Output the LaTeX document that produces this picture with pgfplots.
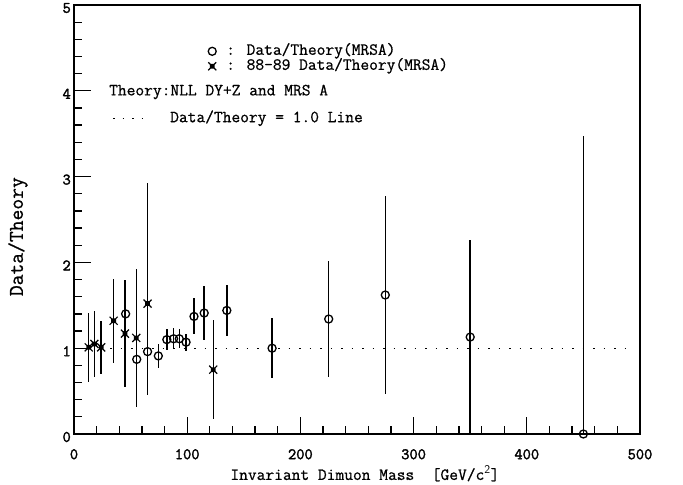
\documentclass[border=0pt]{standalone}
\usepackage{fontspec}
\usepackage{pgfplots}
\usepackage{pgfplotstable}
\pgfplotsset{compat=1.18}
\newfontfamily\reftt{Latin Modern Mono}[FakeBold=0.8]
\newfontfamily\ticktt{Latin Modern Mono}[FakeBold=2.0]

\pgfdeclareplotmark{starbox}{%
  \pgfpathmoveto{\pgfqpoint{-\pgfplotmarksize}{-\pgfplotmarksize}}%
  \pgfpathlineto{\pgfqpoint{\pgfplotmarksize}{\pgfplotmarksize}}%
  \pgfpathmoveto{\pgfqpoint{-\pgfplotmarksize}{\pgfplotmarksize}}%
  \pgfpathlineto{\pgfqpoint{\pgfplotmarksize}{-\pgfplotmarksize}}%
  \pgfpathrectangle{\pgfqpoint{-0.45\pgfplotmarksize}{-0.45\pgfplotmarksize}}{\pgfqpoint{0.9\pgfplotmarksize}{0.9\pgfplotmarksize}}%
  \pgfusepathqstroke
}

\pgfplotstableread{
x     y     ep    em
45.6  1.40  0.22  0.22
55.4  0.87  0.50  0.50
65.0  0.96  0.50  0.50
74.5  0.91  0.14  0.14
82.0  1.10  0.12  0.12
88.0  1.11  0.12  0.12
93.0  1.11  0.11  0.11
99.0  1.07  0.10  0.10
106.0 1.37  0.21  0.21
115.0 1.41  0.32  0.32
135.0 1.44  0.30  0.30
175.0 1.00  0.35  0.35
225.0 1.34  0.68  0.68
275.0 1.62  1.15  1.15
350.0 1.13  1.13  1.13
450.0 0.00  3.47  0.00
}\circles

\pgfplotstableread{
x     y     ep    em
13.0  1.01  0.40  0.40
18.0  1.05  0.38  0.38
24.0  1.01  0.31  0.31
35.0  1.32  0.49  0.49
45.0  1.17  0.62  0.62
55.0  1.12  0.80  0.80
65.0  1.52  1.41  1.07
123.0 0.75  0.58  0.58
}\stars

\begin{document}
\begin{tikzpicture}[font=\fontsize{17bp}{20bp}\selectfont\reftt]
\begin{axis}[
  scale only axis,
  width=566bp, height=429bp,
  xmin=0, xmax=500, ymin=0, ymax=5,
  xtick={0,100,...,500},
  ytick={0,1,...,5},
  minor x tick num=4,
  minor y tick num=4,
  tick pos=left,
  tick align=inside,
  major tick length=17bp,
  minor tick length=8bp,
  axis line style={line width=1.3bp},
  every tick/.style={black, line width=1.3bp},
  /pgf/number format/assume math mode=true,
  ticklabel style={font=\fontsize{16bp}{18bp}\selectfont\ticktt},
  yticklabel style={inner sep=0pt, xshift=-3bp, yshift=-3bp},
  xticklabel style={inner sep=0pt, yshift=-15bp},
  xlabel={Invariant Dimuon Mass \ [GeV/c$^{\mathsf{2}}$]},
  ylabel={Data/Theory},
  xlabel style={at={(axis description cs:0.514,-0.092)}, anchor=center, font=\fontsize{17bp}{20bp}\selectfont\reftt},
  ylabel style={at={(axis description cs:-0.099,0.46)}, anchor=center, font=\fontsize{21bp}{24bp}\selectfont\reftt},
  clip=false,
  legend style={draw=none, fill=none, inner sep=0pt, at={(axis cs:118.4,4.55)}, anchor=north west,
    nodes={inner sep=0pt, text height=11bp, text depth=4bp, font=\fontsize{17bp}{20bp}\selectfont\reftt}},
  legend cell align=left,
  legend image code/.code={\draw[#1] plot coordinates {(0bp,0bp)};},
]
\addplot[black, line width=1.3bp, dash pattern=on 1.5bp off 9bp, forget plot] coordinates {(4,1) (492,1)};
\addplot[black, only marks, mark=o, mark size=4bp, line width=1.3bp,
  error bars/.cd, y dir=both, y explicit, error mark=none, error bar style={line width=1.4bp}]
  table[x=x, y=y, y error plus=ep, y error minus=em] {\circles};
\addlegendentry{\hspace{10bp}: Data/Theory(MRSA)}
\addplot[black, only marks, mark=starbox, mark size=4bp, line width=1.2bp,
  error bars/.cd, y dir=both, y explicit, error mark=none, error bar style={line width=1.4bp}]
  table[x=x, y=y, y error plus=ep, y error minus=em] {\stars};
\addlegendentry{\hspace{10bp}: 88-89 Data/Theory(MRSA)}
\node[anchor=west, inner sep=0pt] at (axis cs:30.9,3.986) {Theory:NLL DY+Z and MRS A};
\draw[black, line width=1.3bp, dash pattern=on 1.5bp off 8bp] (axis cs:34.5,3.68) -- (axis cs:61,3.68);
\node[anchor=west, inner sep=0pt] at (axis cs:84.8,3.68) {Data/Theory = 1.0 Line};
\end{axis}
\pgfresetboundingbox
\path[use as bounding box] (-74bp,-51bp) rectangle (609bp,434bp);
\end{tikzpicture}
\end{document}
